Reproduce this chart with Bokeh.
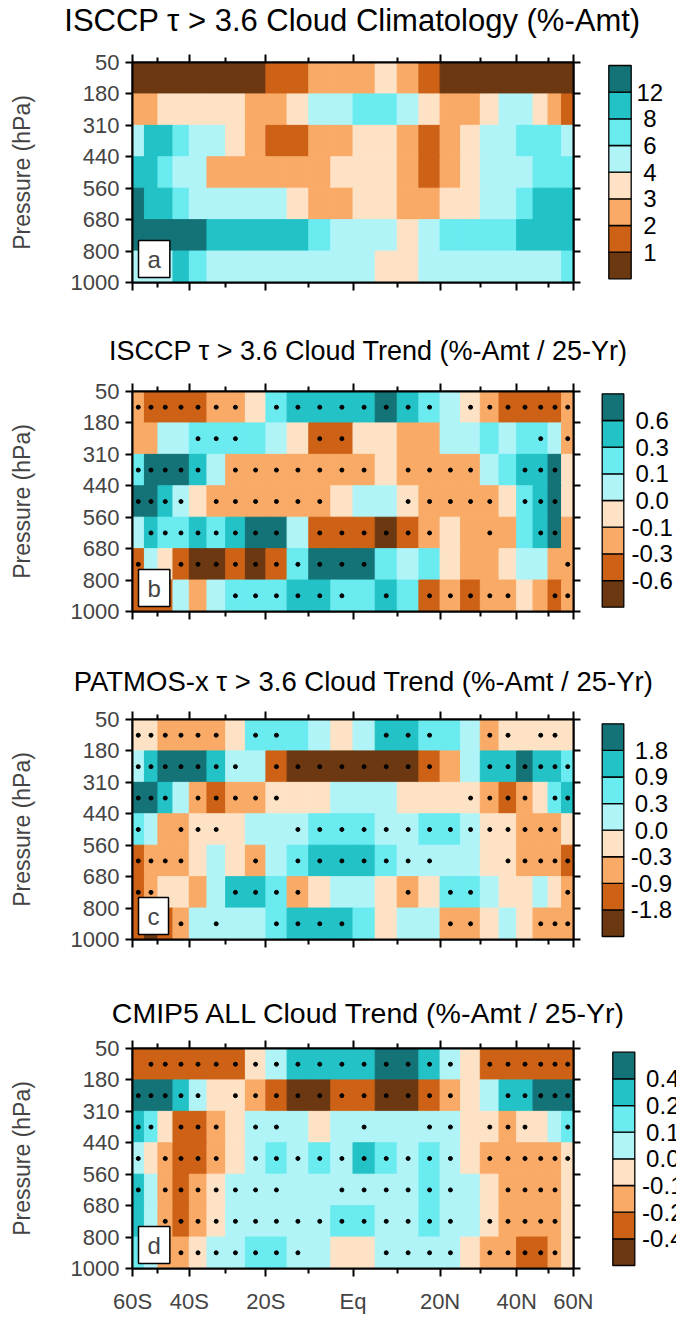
import numpy as np
from bokeh.plotting import figure
from bokeh.layouts import column, row
from bokeh.models import Range1d, FixedTicker, LinearAxis, Label
from bokeh.embed import file_html
from bokeh.resources import INLINE
from bokeh.core.properties import value

FONT = "Liberation Sans"

# ---------------- data ----------------
lat_edges = list(range(-60, 61, 5))            # 24 latitude bins of 5 degrees
pressure_labels = ["50", "180", "310", "440", "560", "680", "800", "1000"]
xtick_lats = [-60, -40, -20, 0, 20, 40, 60]
xtick_labels = ["60S", "40S", "20S", "Eq", "20N", "40N", "60N"]
xminor_lats = [-50, -30, -10, 10, 30, 50]

# colour classes 0 (darkest brown) .. 7 (darkest teal)
palette = ["#6C3812", "#CD6116", "#F9AA66", "#FDE2C6",
           "#B0F4F7", "#6AEBF0", "#22C2C6", "#147376"]

# rows: 50-180, 180-310, ..., 800-1000 hPa ; columns: 60S -> 60N
a_bins = [
    "000000001122232100000000",
    "223333322344554322344321",
    "466544321122332123445554",
    "665442222223332123444555",
    "766544444322332233445666",
    "777776666654443455556666",
    "444654444444433444444445",
]
a_dots = ["                        "] * 7
a_levels = ["1", "2", "3", "4", "6", "8", "12"]

b_bins = [
    "211112235666676543211112",
    "224455554311332244545542",
    "577764222222232222456673",
    "776432222223443222235673",
    "465565677411101232225672",
    "143100101577754532234422",
    "111424555665565121223212",
]
b_dots = [
    "......." + " " + "........" + " " + ".......",
    "    " + "..." + "   " + ".." + "         " + "." + " " + ".",
    "....." + " " + "......." + " " + "...." + "  " + "..." + " ",
    "...." + " " + "......" + "   " + "....." + " " + "..." + " ",
    " " + "........" + " " + "......" + "  " + "." + "  " + ".." + " ",
    "." + "  " + ".........." + "          " + ".",
    "      " + "......" + " " + "." + " " + "....." + "  " + "..",
]
b_levels = ["-0.6", "-0.3", "-0.1", "0.0", "0.1", "0.3", "0.6"]

c_bins = [
    "332222355543466554233333",
    "467776441000000124667665",
    "776421223334443333212356",
    "542233344455544554332223",
    "122234324566654444332221",
    "123324665234432355433432",
    "101244445666534422343222",
]
c_dots = [
    "......" + " " + ".." + "    " + "..." + "  " + ".." + " " + ".." + " ",
    "......." + " " + "........" + "  " + "......",
    "..." + " " + "....." + "        " + "...." + " " + "..",
    "." + "  " + "..." + "   " + ".............." + " ",
    "...." + "   " + "." + " " + "......." + "   " + ".....",
    ".." + "    " + "...." + "    " + "." + " " + ".." + "     " + ".",
    "   " + "." + " " + "." + "  " + "...." + "    " + ".." + "   " + "...",
]
c_levels = ["-1.8", "-0.9", "-0.3", "0.0", "0.3", "0.9", "1.8"]

d_bins = [
    "111111134666677643111111",
    "777643321001100123466777",
    "653112344434444443323345",
    "432112345454654543222223",
    "642123444444444544322223",
    "642123444445544544322223",
    "542234455443344443221123",
]
d_dots = [
    " " + "................" + " " + "......",
    "....." + " " + "..........." + "  " + ".....",
    ".." + " " + "..." + " " + ".." + "   " + "." + "  " + ".." + " " + "..." + "  " + ".",
    "." + " " + "...." + " " + ".........." + " " + "......",
    "." + " " + "......." + "  " + "......" + "  " + "...." + " ",
    "  " + "..............." + " " + "....." + " ",
    "   " + "......." + "   " + "...." + " " + "....." + " ",
]
d_levels = ["-0.4", "-0.2", "-0.1", "0.0", "0.1", "0.2", "0.4"]

titles = ["ISCCP \u03c4 > 3.6 Cloud Climatology (%-Amt)",
          "ISCCP \u03c4 > 3.6 Cloud Trend (%-Amt / 25-Yr)",
          "PATMOS-x \u03c4 > 3.6 Cloud Trend (%-Amt / 25-Yr)",
          "CMIP5 ALL Cloud Trend (%-Amt / 25-Yr)"]
letters = ["a", "b", "c", "d"]

# ---------------- helpers ----------------
def s(lat):
    return float(np.round(np.sin(np.radians(lat)), 8))

TOTAL_W = 676
HEAT_W = 593
TITLE_H = 40
FRAME_H = 220


def style_axis(ax, show_labels, ticks, tick_font="22px"):
    ax.axis_line_width = 2
    ax.axis_line_color = "black"
    ax.major_tick_line_width = 2
    ax.minor_tick_line_width = 2
    ax.major_tick_in = 0
    ax.minor_tick_in = 0
    ax.major_label_text_font = FONT
    if show_labels:
        ax.major_label_text_font_size = tick_font
    else:
        ax.major_label_overrides = {t: "" for t in ticks}
        ax.major_label_text_font_size = "2px"
        ax.major_label_standoff = 0


def title_fig(text, text_cx, text_cy, size):
    p = figure(width=TOTAL_W, height=TITLE_H,
               x_range=Range1d(0, TOTAL_W), y_range=Range1d(TITLE_H, 0),
               x_axis_location=None, y_axis_location=None,
               output_backend="svg", toolbar_location=None, min_border=0,
               min_border_left=0, min_border_right=0,
               min_border_top=0, min_border_bottom=0)
    p.grid.visible = False
    p.outline_line_color = None
    p.text(x=[text_cx], y=[text_cy], text=[text], text_align="center",
           text_baseline="middle", text_font=value(FONT),
           text_font_size=size, text_color="black")
    return p


def heat_fig(bins, dots, letter, top, bottom, show_x):
    left, right, tp, bt, col = [], [], [], [], []
    dx, dy = [], []
    for r, rowstr in enumerate(bins):
        for c, ch in enumerate(rowstr):
            left.append(s(lat_edges[c]))
            right.append(s(lat_edges[c + 1]))
            tp.append(r)
            bt.append(r + 1)
            col.append(palette[int(ch)])
            if dots[r][c] == ".":
                dx.append(s((lat_edges[c] + lat_edges[c + 1]) / 2))
                dy.append(r + 0.5)
    p = figure(width=HEAT_W, height=top + FRAME_H + bottom,
               x_range=Range1d(s(-60), s(60)), y_range=Range1d(7, 0),
               x_axis_location=None, y_axis_location=None,
               output_backend="svg", toolbar_location=None,
               min_border_left=132, min_border_right=HEAT_W - 132 - 441,
               min_border_top=top, min_border_bottom=bottom)
    p.grid.visible = False
    p.outline_line_color = "black"
    p.outline_line_width = 2
    p.quad(left=left, right=right, top=tp, bottom=bt,
           fill_color=col, line_color=col, line_width=1)
    if dx:
        p.scatter(dx, dy, size=4, color="black")

    xmaj = [s(v) for v in xtick_lats]
    xt = FixedTicker(ticks=xmaj, minor_ticks=[s(v) for v in xminor_lats])
    yt = FixedTicker(ticks=list(range(8)), minor_ticks=[])

    below = LinearAxis(ticker=xt)
    style_axis(below, show_x, xmaj)
    below.major_tick_out = 8
    below.minor_tick_out = 5
    if show_x:
        below.major_label_overrides = {s(v): t for v, t in zip(xtick_lats, xtick_labels)}
        below.major_label_standoff = 12
    above = LinearAxis(ticker=xt)
    style_axis(above, False, xmaj)
    above.major_tick_out = 8
    above.minor_tick_out = 5

    lefta = LinearAxis(ticker=yt)
    style_axis(lefta, True, list(range(8)))
    lefta.major_tick_out = 7
    lefta.major_label_overrides = {i: t for i, t in enumerate(pressure_labels)}
    lefta.major_label_standoff = 6
    lefta.axis_label = "Pressure (hPa)"
    lefta.axis_label_text_font = FONT
    lefta.axis_label_text_font_size = "23px"
    lefta.axis_label_text_font_style = "normal"
    lefta.axis_label_standoff = 33
    righta = LinearAxis(ticker=yt)
    style_axis(righta, False, list(range(8)))
    righta.major_tick_out = 7

    p.add_layout(below, "below")
    p.add_layout(above, "above")
    p.add_layout(lefta, "left")
    p.add_layout(righta, "right")

    lab = Label(x=6, y=5, x_units="screen", y_units="screen", text=letter,
                text_font=FONT, text_font_size="24px",
                background_fill_color="white", border_line_color="black",
                border_line_width=1.5, padding=(9, 5))
    p.add_layout(lab)
    return p


def cbar_fig(levels, top, bottom, bar_left, bar_right, bar_top, bar_bottom, label_cx):
    # bar_top / bar_bottom: pixel offsets measured from the top of the plot frame
    W = TOTAL_W - HEAT_W
    uh = (bar_bottom - bar_top) / 8.0
    uw = float(bar_right - bar_left)
    p = figure(width=W, height=top + FRAME_H + bottom,
               x_range=Range1d(-bar_left / uw, (W - bar_left) / uw),
               y_range=Range1d(-(FRAME_H - bar_bottom) / uh, 8 + bar_top / uh),
               x_axis_location=None, y_axis_location=None,
               output_backend="svg", toolbar_location=None,
               min_border_left=0, min_border_right=0,
               min_border_top=top, min_border_bottom=bottom)
    p.grid.visible = False
    p.outline_line_color = None
    p.quad(left=0, right=1, bottom=list(range(8)), top=list(range(1, 9)),
           fill_color=palette, line_color="black", line_width=1.3)
    p.text(x=(label_cx - bar_left) / uw, y=list(range(1, 8)), text=levels,
           text_align="center", text_baseline="middle",
           text_font=value(FONT), text_font_size="24px", text_color="black")
    return p


# panel geometry (pixels)
ta = title_fig(titles[0], 352, 20, "31px")
ha = heat_fig(a_bins, a_dots, "a", 22, 48, False)
ca = cbar_fig(a_levels, 22, 48, 15.3, 37.7, 3, 216.3, 56.3)

tb = title_fig(titles[1], 368, 20, "27px")
hb = heat_fig(b_bins, b_dots, "b", 21, 48, False)
cb = cbar_fig(b_levels, 21, 48, 8.7, 30.3, 2.3, 215.7, 58.7)

tc = title_fig(titles[2], 363, 22, "27.5px")
hc = heat_fig(c_bins, c_dots, "c", 20, 49, False)
cc = cbar_fig(c_levels, 20, 49, 8.7, 30.3, 4.3, 217, 58.0)

td = title_fig(titles[3], 369, 24, "28.5px")
hd = heat_fig(d_bins, d_dots, "d", 20, 55, True)
cd = cbar_fig(d_levels, 20, 55, 19.3, 41.3, 3.7, 217, 69.3)

layout = column(ta, row(ha, ca), tb, row(hb, cb), tc, row(hc, cc), td, row(hd, cd))

open("out.html", "w").write(file_html(layout, INLINE))
